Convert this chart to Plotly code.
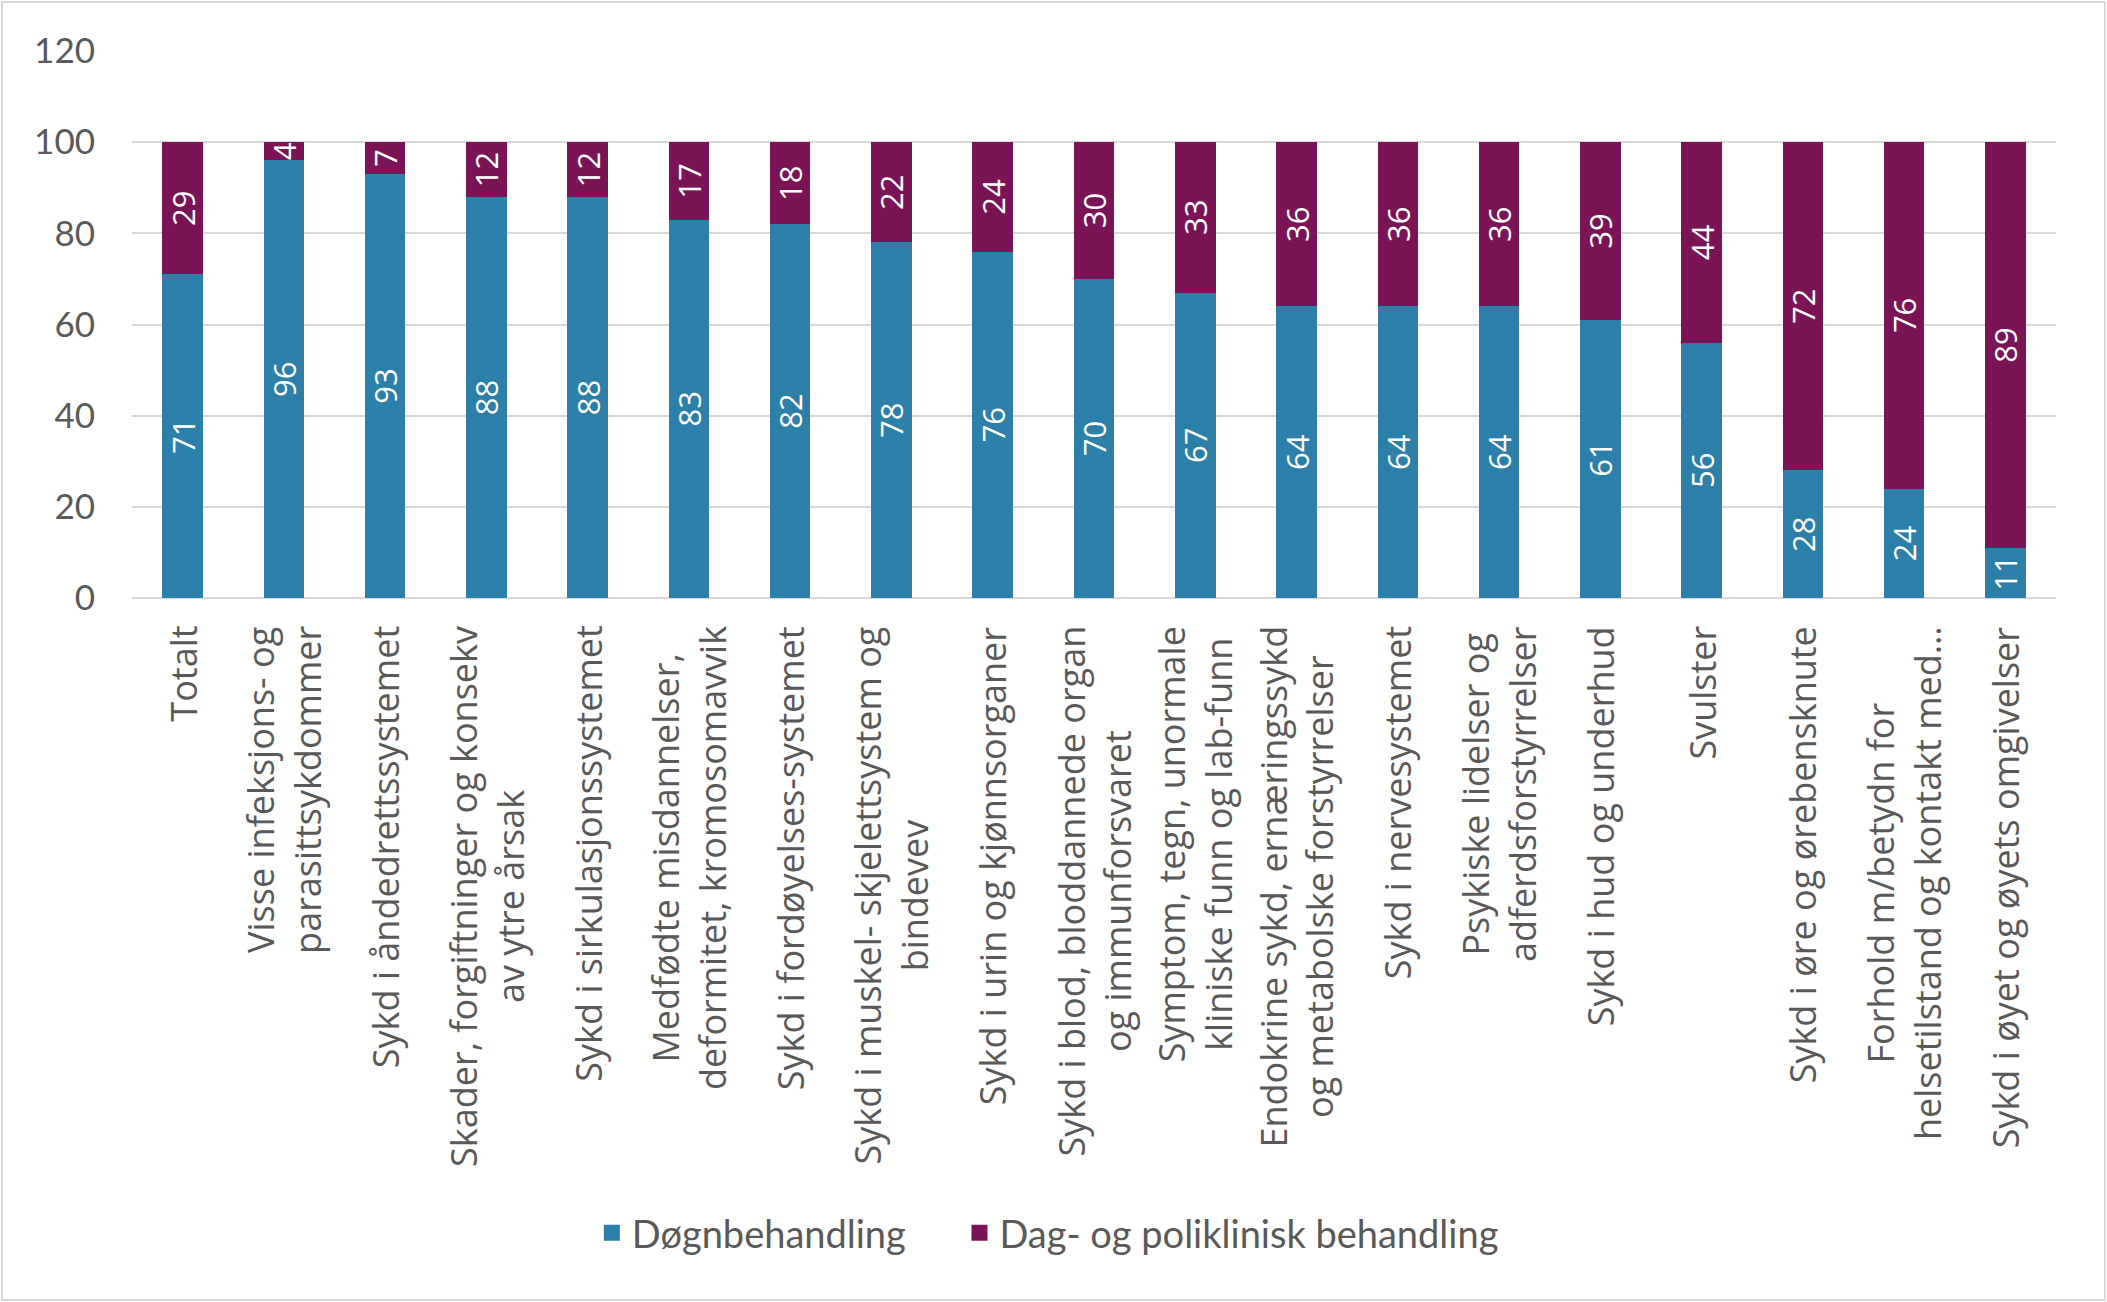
import plotly.graph_objects as go

categories = [
    "Totalt",
    "Visse infeksjons- og<br>parasittsykdommer",
    "Sykd i åndedrettssystemet",
    "Skader, forgiftninger og konsekv<br>av ytre årsak",
    "Sykd i sirkulasjonssystemet",
    "Medfødte misdannelser,<br>deformitet, kromosomavvik",
    "Sykd i fordøyelses-systemet",
    "Sykd i muskel- skjelettsystem og<br>bindevev",
    "Sykd i urin og kjønnsorganer",
    "Sykd i blod, bloddannede organ<br>og immunforsvaret",
    "Symptom, tegn, unormale<br>kliniske funn og lab-funn",
    "Endokrine sykd, ernæringssykd<br>og metabolske forstyrrelser",
    "Sykd i nervesystemet",
    "Psykiske lidelser og<br>adferdsforstyrrelser",
    "Sykd i hud og underhud",
    "Svulster",
    "Sykd i øre og ørebensknute",
    "Forhold m/betydn for<br>helsetilstand og kontakt med…",
    "Sykd i øyet og øyets omgivelser",
]
dogn = [71, 96, 93, 88, 88, 83, 82, 78, 76, 70, 67, 64, 64, 64, 61, 56, 28, 24, 11]
dag = [29, 4, 7, 12, 12, 17, 18, 22, 24, 30, 33, 36, 36, 36, 39, 44, 72, 76, 89]
series_names = ["Døgnbehandling", "Dag- og poliklinisk behandling"]
y_ticks = [0, 20, 40, 60, 80, 100, 120]

BLUE = "#2C7FA8"
PURPLE = "#7A1457"
GRID = "#D9D9D9"
TEXT = "#595959"

W, H = 2107, 1302
ML, MR, MT, MB = 132, 51, 51, 704
PW, PH = W - ML - MR, H - MT - MB

fig = go.Figure()
for vals, name, col in [(dogn, series_names[0], BLUE), (dag, series_names[1], PURPLE)]:
    fig.add_trace(go.Bar(
        x=categories, y=vals, name=name, marker=dict(color=col, line=dict(width=0)),
        text=[str(v) for v in vals], textposition="inside", textangle=-90,
        insidetextanchor="middle", showlegend=False,
        textfont=dict(family="Open Sans", size=31, color="white"),
    ))

# legend entries with larger square swatches
pad = ["\u00a0" * 5, ""]
for name, col, p in [(series_names[0], BLUE, pad[0]), (series_names[1], PURPLE, pad[1])]:
    fig.add_trace(go.Scatter(
        x=[None], y=[None], mode="markers", name=name + p,
        marker=dict(symbol="square", size=20, color=col),
    ))

annotations = []
for c in categories:
    annotations.append(dict(
        x=c, xref="x", y=0, yref="paper", yshift=-26,
        text=c, showarrow=False, textangle=-90,
        xanchor="center", yanchor="top", align="center",
        font=dict(family="Open Sans", size=36, color=TEXT),
    ))

fig.update_layout(
    width=W, height=H,
    margin=dict(l=ML, r=MR, t=MT, b=MB),
    barmode="stack", bargap=0.6,
    paper_bgcolor="white", plot_bgcolor="white",
    uniformtext=dict(minsize=31, mode="show"),
    showlegend=True,
    legend=dict(orientation="h", x=0.476, xanchor="center", y=-1.161, yanchor="middle",
                font=dict(family="Lato", size=38, color=TEXT), traceorder="normal",
                itemwidth=30),
    annotations=annotations,
    shapes=[dict(type="rect", xref="paper", yref="paper",
                 x0=-(ML - 2) / PW, x1=1 + (MR - 2) / PW,
                 y0=-(MB - 2) / PH, y1=1 + (MT - 2) / PH,
                 line=dict(color=GRID, width=2), layer="below")],
)
fig.update_xaxes(showticklabels=False, showgrid=False, showline=False, ticks="",
                 categoryorder="array", categoryarray=categories)
fig.update_yaxes(range=[0, 120], tickvals=y_ticks, showgrid=True, gridcolor=GRID, gridwidth=2,
                 zeroline=True, zerolinecolor=GRID, zerolinewidth=2, showline=False, ticks="",
                 ticklabelstandoff=36,
                 tickfont=dict(family="Lato", size=35, color=TEXT))

fig.write_html("out.html", config={"displayModeBar": False},
               post_script="document.body.style.margin='0';document.body.style.overflow='hidden';")
